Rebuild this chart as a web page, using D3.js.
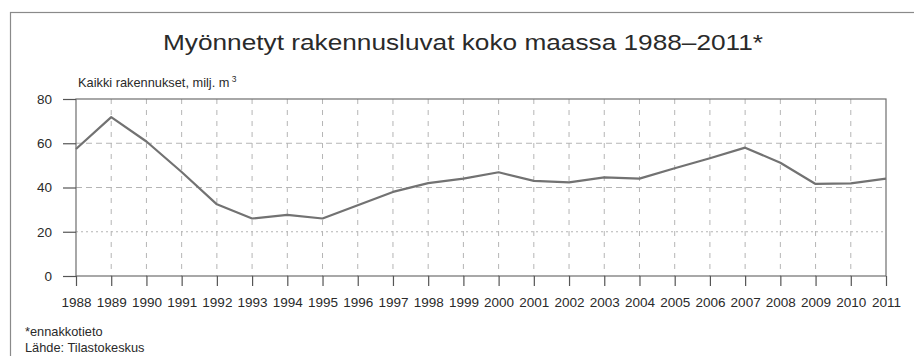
<!DOCTYPE html>
<html>
<head>
<meta charset="utf-8">
<script src="https://cdn.jsdelivr.net/npm/d3@7"></script>
<style>
  body { margin: 0; background: #fff; }
  text { font-family: "Liberation Sans", Arial, sans-serif; fill: #2a2a2a; }
</style>
</head>
<body>
<div id="chart"></div>
<script>
// data
var years = [1988, 1989, 1990, 1991, 1992, 1993, 1994, 1995, 1996, 1997, 1998, 1999,
             2000, 2001, 2002, 2003, 2004, 2005, 2006, 2007, 2008, 2009, 2010, 2011];
var volumes = [57.4, 71.8, 60.8, 47, 32.4, 26, 27.6, 26, 32, 38, 42, 44,
               46.9, 43, 42.3, 44.6, 44, 48.7, 53.2, 58, 51.2, 41.6, 41.9, 44];
var yTicks = [0, 20, 40, 60, 80];

var width = 914, height = 356;
var margin = {left: 76, right: 28, top: 99, bottom: 80};

var svg = d3.select("#chart").append("svg")
    .attr("width", width)
    .attr("height", height);

// outer frame (runs off the right and bottom edge)
svg.append("rect")
    .attr("x", 10.5).attr("y", 12.5)
    .attr("width", 950).attr("height", 400)
    .attr("fill", "none")
    .attr("stroke", "#8a8a8a")
    .attr("stroke-width", 1.2);

var x = d3.scaleLinear()
    .domain([1988, 2011])
    .range([margin.left, width - margin.right]);

var y = d3.scaleLinear()
    .domain([0, 80])
    .range([height - margin.bottom, margin.top]);

// title
svg.append("text")
    .attr("x", 463).attr("y", 50)
    .attr("text-anchor", "middle")
    .attr("textLength", 600)
    .attr("lengthAdjust", "spacingAndGlyphs")
    .style("font-size", "21.5px")
    .text("Myönnetyt rakennusluvat koko maassa 1988–2011*");

// unit label
var unit = svg.append("text")
    .attr("x", 78).attr("y", 87)
    .style("font-size", "12.8px");
unit.append("tspan").text("Kaikki rakennukset, milj. m");
unit.append("tspan").attr("dy", -5).style("font-size", "8.5px").text(" 3");

// gridlines
var grid = svg.append("g");
grid.selectAll(".hgrid")
    .data([20, 40, 60])
    .enter().append("line")
    .attr("x1", x(1988)).attr("x2", x(2011))
    .attr("y1", d => y(d)).attr("y2", d => y(d))
    .attr("stroke", "#b5b5b5")
    .attr("stroke-width", 1)
    .attr("stroke-dasharray", d => d == 20 ? "2,3" : "6,4");

grid.selectAll(".vgrid")
    .data(years.slice(1, -1))
    .enter().append("line")
    .attr("x1", d => x(d)).attr("x2", d => x(d))
    .attr("y1", y(80)).attr("y2", y(0))
    .attr("stroke", "#b5b5b5")
    .attr("stroke-width", 1)
    .attr("stroke-dasharray", "5,6");

// plot frame
svg.append("rect")
    .attr("x", x(1988)).attr("y", y(80))
    .attr("width", x(2011) - x(1988))
    .attr("height", y(0) - y(80))
    .attr("fill", "none")
    .attr("stroke", "#6e6e6e")
    .attr("stroke-width", 1.2);

// axes
var xAxis = d3.axisBottom(x)
    .tickValues(years)
    .tickFormat(d3.format("d"))
    .tickSize(10)
    .tickPadding(11);

var yAxis = d3.axisLeft(y)
    .tickValues(yTicks)
    .tickSize(13)
    .tickPadding(11);

var gx = svg.append("g")
    .attr("transform", "translate(0," + y(0) + ")")
    .call(xAxis);
var gy = svg.append("g")
    .attr("transform", "translate(" + x(1988) + ",0)")
    .call(yAxis);

[gx, gy].forEach(function (g) {
    g.select(".domain").remove();
    g.selectAll(".tick line").attr("stroke", "#555").attr("stroke-width", 1.2);
    g.selectAll(".tick text")
        .style("font-size", "13.5px")
        .style("font-family", "'Liberation Sans', Arial, sans-serif")
        .attr("fill", "#2a2a2a");
});

// the line
var line = d3.line()
    .x((d, i) => x(years[i]))
    .y(d => y(d));

svg.append("path")
    .datum(volumes)
    .attr("d", line)
    .attr("fill", "none")
    .attr("stroke", "#727272")
    .attr("stroke-width", 2.2)
    .attr("stroke-linejoin", "round");

// footnotes
svg.append("text")
    .attr("x", 25).attr("y", 336)
    .style("font-size", "12.8px")
    .text("*ennakkotieto");
svg.append("text")
    .attr("x", 25).attr("y", 352)
    .style("font-size", "12.8px")
    .text("Lähde: Tilastokeskus");
</script>
</body>
</html>
